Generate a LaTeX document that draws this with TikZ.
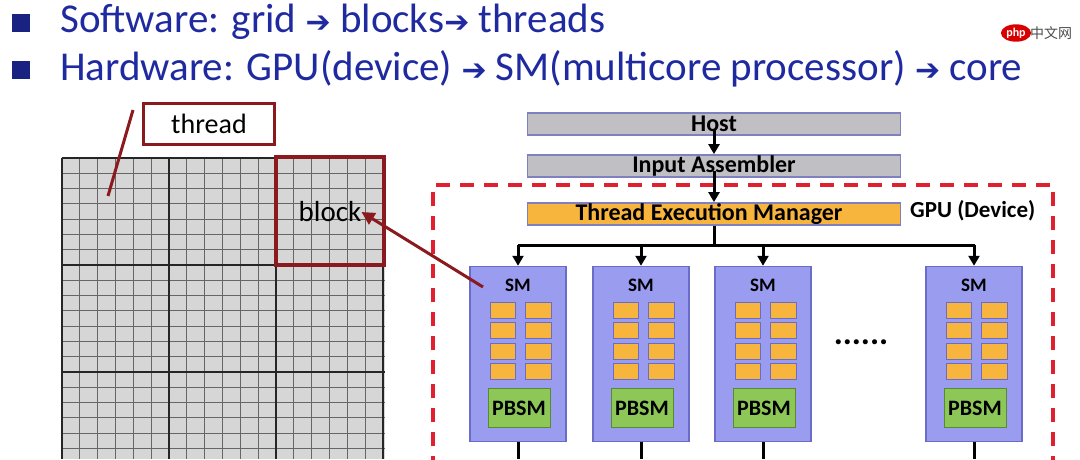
\documentclass[tikz,border=0pt]{standalone}
\usepackage{fontspec}
\setmainfont{Carlito}
\newfontfamily\dv{DejaVu Sans}
\newfontfamily\cjk{Noto Sans CJK SC}
\usetikzlibrary{arrows.meta,shapes.geometric}
\definecolor{hblue}{HTML}{1F2AA0}
\definecolor{dred}{HTML}{8B1A1F}
\definecolor{gred}{HTML}{E0202E}
\definecolor{bxgray}{HTML}{C0C0C4}
\definecolor{bxedge}{HTML}{7F80C0}
\definecolor{orng}{HTML}{F8B53E}
\definecolor{smfill}{HTML}{9A9CF0}
\definecolor{smedge}{HTML}{6A6CC8}
\definecolor{pbsm}{HTML}{8CC758}
\definecolor{pbedge}{HTML}{5A8A30}
\begin{document}
\begin{tikzpicture}[x=1pt,y=-1pt,
  bar/.style={draw=bxedge,line width=1.8pt,fill=bxgray,minimum width=373pt,minimum height=22pt,inner sep=0pt,font=\bfseries\fontsize{24}{24}\selectfont},
  sm/.style={draw=smedge,line width=1.5pt,fill=smfill,minimum width=96pt,minimum height=175pt,inner sep=0pt},
  core/.style={fill=orng,draw=smedge,line width=0.8pt},
  pb/.style={fill=pbsm,draw=pbedge,line width=1pt},
  blk/.style={-{Triangle[length=10pt,width=11pt]},line width=3pt},
  arr/.style={font=\dv\bfseries\fontsize{30}{30}\selectfont},
  hl/.style={font=\fontsize{41}{41}\selectfont,text=hblue,anchor=west,inner sep=0pt}]
\useasboundingbox (0,0) rectangle (1080,459);
% header
\fill[hblue!80!black] (12,14) rectangle (30,32);
\fill[hblue!80!black] (12,61) rectangle (30,79);
\node[hl] (l1) at (60,22) {Software: grid {\dv\bfseries\fontsize{30}{30}\selectfont ➔} blocks{\dv\bfseries\fontsize{30}{30}\selectfont ➔} threads};
\node[hl] (l2) at (60,69) {Hardware: GPU(device) {\dv\bfseries\fontsize{30}{30}\selectfont ➔} SM(multicore processor) {\dv\bfseries\fontsize{30}{30}\selectfont ➔} core};
% watermark
\node[fill=red!85!black,ellipse,inner sep=1pt,text=white,font=\bfseries\fontsize{12}{12}\selectfont] (wm) at (1016,33) {php};
\node[anchor=west,inner sep=0pt,text=black!70,font=\cjk\fontsize{14}{14}\selectfont] (wm2) at (1030,33) {中文网};
% grid
\fill[black!16] (62,158) rectangle (385,459);
\foreach \i in {0,...,18} \draw[black!60,line width=1.2pt] ({62+\i*107/6},158) -- ({62+\i*107/6},459);
\foreach \j in {0,...,21} \draw[black!60,line width=1.2pt] (62,{158+\j*107/7}) -- (385,{158+\j*107/7});
\foreach \i in {0,...,3} \draw[black!85,line width=2.2pt] ({62+\i*107},158) -- ({62+\i*107},459);
\foreach \j in {0,...,2} \draw[black!85,line width=2.2pt] (62,{158+\j*107}) -- (385,{158+\j*107});
\node[draw=dred,line width=3pt,fill=white,minimum width=131pt,minimum height=41pt,font=\fontsize{28}{28}\selectfont] (thr) at (209,124) {thread};
\coordinate (tc) at (108,196);
\draw[dred,line width=3pt] (133,110) -- (tc);
\node[draw=dred,line width=4pt,minimum width=108pt,minimum height=108pt] (blkbox) at (330,211) {};
\node[font=\fontsize{29}{29}\selectfont,inner sep=0pt] (blk) at (330,212) {block};
% gpu dashed frame
\draw[gred,line width=4pt,dash pattern=on 14pt off 10pt] (433,470) -- (433,185) -- (1053,185) -- (1053,470);
% bars
\node[bar] (host) at (714,124) {Host};
\node[bar] (ia) at (714,166) {Input Assembler};
\node[bar,fill=orng] (tem) at (714,214) {\hspace*{-10pt}Thread Execution Manager};
\node[anchor=west,font=\bfseries\fontsize{23}{23}\selectfont,inner sep=0pt] (gpu) at (910,211) {GPU (Device)};
\draw[blk] (714,129) -- (ia.north);
\draw[blk] (714,171) -- (tem.north);
\coordinate (bus) at (714,245);
\draw[line width=3pt] (tem.south) -- (bus);
\draw[line width=3pt] (518,245) -- (975,245);
\foreach \n/\x in {a/518,b/641,c/763,d/974}{
  \node[sm] (sm\n) at (\x,354) {};
  \draw[blk] (\x,245) -- (sm\n.north);
  \draw[line width=3pt] (sm\n.south) -- (\x,459);
  \node[font=\bfseries\fontsize{19}{19}\selectfont,inner sep=0pt] (sml\n) at (\x,285) {SM};
  \foreach \r in {0,...,3}{
    \draw[core] ({\x-48+20},{302+\r*20.5}) rectangle ({\x-48+45},{318+\r*20.5});
    \draw[core] ({\x-48+55},{302+\r*20.5}) rectangle ({\x-48+81},{318+\r*20.5});
  }
  \draw[pb] ({\x-48+18},388) rectangle ({\x-48+80},427);
  \node[font=\bfseries\fontsize{22}{22}\selectfont,inner sep=0pt] (pbl\n) at ({\x+1},408) {PBSM};
}
\node[font=\bfseries\fontsize{34}{34}\selectfont,inner sep=0pt] (dots) at (861,342) {......};
\draw[dred,line width=3pt,-{Triangle[length=13pt,width=13pt]}] (483,287) -- (blk.east);
\end{tikzpicture}
\end{document}
